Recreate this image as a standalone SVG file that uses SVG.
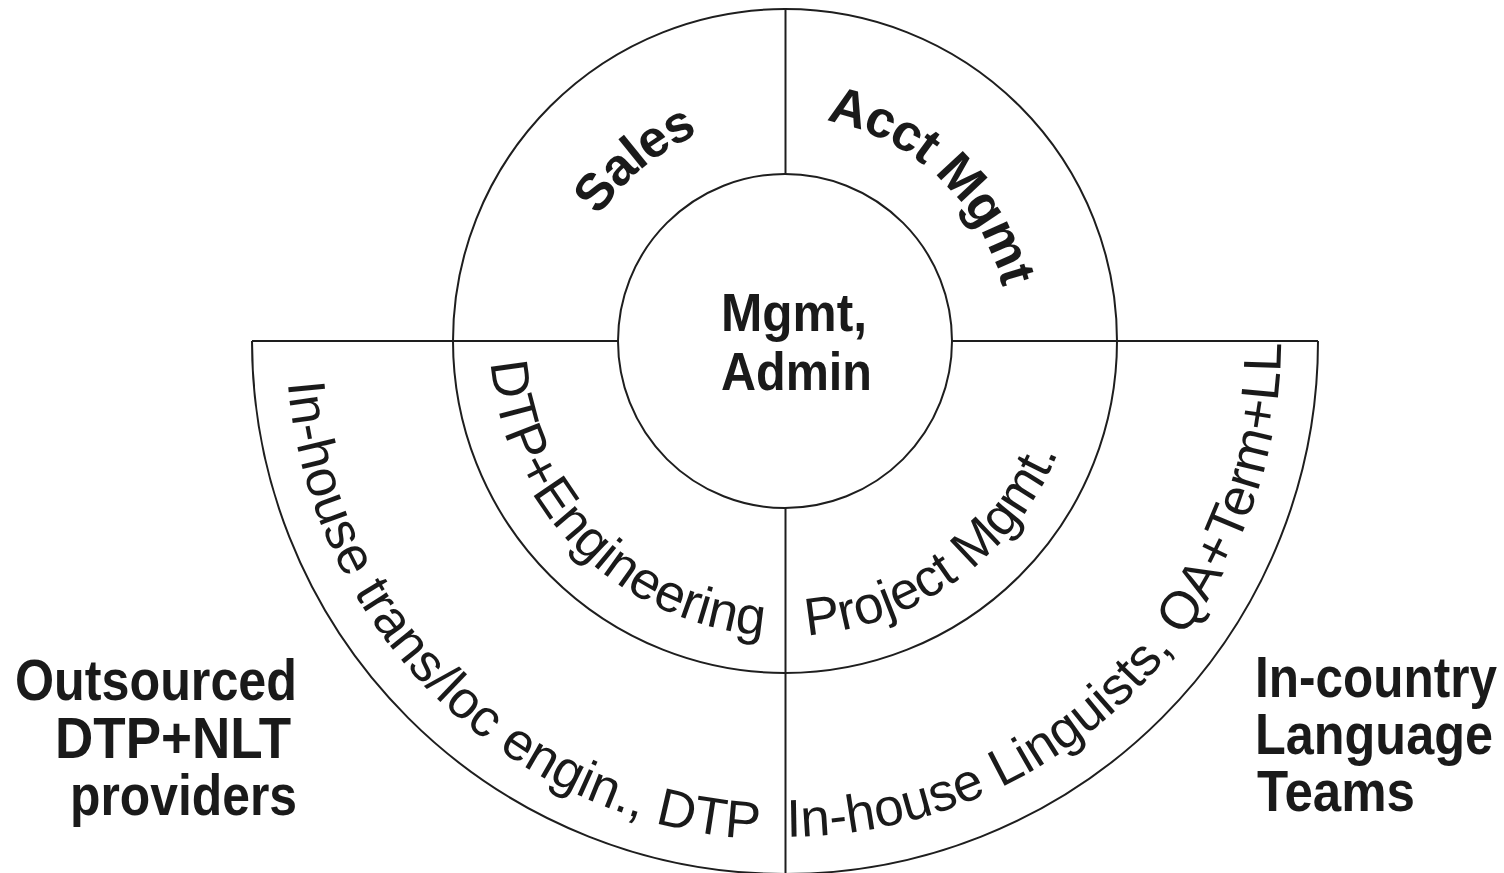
<svg xmlns="http://www.w3.org/2000/svg" xmlns:xlink="http://www.w3.org/1999/xlink" width="1504" height="873" viewBox="0 0 1504 873">
  <style>
    .ring { fill: none; stroke: #1e1e1e; stroke-width: 2; }
    .rule { stroke: #1e1e1e; stroke-width: 2; fill: none; }
    .lbl { font-family: "Liberation Sans", Arial, sans-serif; fill: #1a1a1a; }
    .bold { font-weight: bold; }
    .arc-lbl { font-family: "Liberation Sans", Arial, sans-serif; fill: #1a1a1a; font-size: 53px; }
    .arc-bold { font-family: "Liberation Sans", Arial, sans-serif; fill: #1a1a1a; font-size: 52px; font-weight: bold; letter-spacing: -1.2px; }
  </style>
  <defs>
    <!-- clockwise arc over the top (glyph tops face outward) -->
    <path id="topArc" d="M 561 341 A 224 224 0 0 1 1009 341"/>
    <!-- counter-clockwise arcs under the bottom (glyph tops face the centre) -->
    <path id="midLowArc" d="M 490 341 A 295 295 0 0 0 1080 341"/>
    <path id="outerLowArcL" d="M 286 341 A 499 499 0 0 0 1284 341"/>
    <path id="outerLowArcR" d="M 289 341 A 496 496 0 0 0 1281 341"/>
  </defs>
  <rect width="1504" height="873" fill="#ffffff"/>

  <!-- ring outlines -->
  <g id="rings">
    <path class="ring" d="M 252 341 A 533 533 0 0 0 1318 341"/>
    <circle class="ring" cx="785" cy="341" r="332"/>
    <circle class="ring" cx="785" cy="341" r="167"/>
  </g>

  <!-- dividing rules between segments -->
  <g id="connectors">
    <line class="rule" x1="785.5" y1="9" x2="785.5" y2="174"/>
    <line class="rule" x1="785.5" y1="508" x2="785.5" y2="873"/>
    <line class="rule" x1="252" y1="341" x2="618" y2="341"/>
    <line class="rule" x1="952" y1="341" x2="1318" y2="341"/>
  </g>

  <g id="core">
    <text class="lbl bold" font-size="53" x="721" y="331" textLength="146" lengthAdjust="spacingAndGlyphs">Mgmt,</text>
    <text class="lbl bold" font-size="53" x="721" y="390" textLength="151" lengthAdjust="spacingAndGlyphs">Admin</text>
  </g>

  <g id="sales">
    <text class="arc-bold"><textPath xlink:href="#topArc" href="#topArc" startOffset="28%" text-anchor="middle">Sales</textPath></text>
  </g>

  <g id="acct-mgmt">
    <text class="arc-bold"><textPath xlink:href="#topArc" href="#topArc" startOffset="74%" text-anchor="middle">Acct Mgmt</textPath></text>
  </g>

  <g id="dtp-engineering">
    <text class="arc-lbl"><textPath xlink:href="#midLowArc" href="#midLowArc" startOffset="25%" text-anchor="middle">DTP+Engineering</textPath></text>
  </g>

  <g id="project-mgmt">
    <text class="arc-lbl"><textPath xlink:href="#midLowArc" href="#midLowArc" startOffset="70%" text-anchor="middle">Project Mgmt.</textPath></text>
  </g>

  <g id="inhouse-trans">
    <text class="arc-lbl" font-size="54"><textPath xlink:href="#outerLowArcL" href="#outerLowArcL" startOffset="25.5%" text-anchor="middle">In-house trans/loc engin., DTP</textPath></text>
  </g>

  <g id="inhouse-linguists">
    <text class="arc-lbl" font-size="51.5"><textPath xlink:href="#outerLowArcR" href="#outerLowArcR" startOffset="75%" text-anchor="middle">In-house Linguists, QA+Term+LL</textPath></text>
  </g>

  <g id="outsourced">
    <text class="lbl bold" font-size="57" x="15" y="700" textLength="282" lengthAdjust="spacingAndGlyphs">Outsourced</text>
    <text class="lbl bold" font-size="57" x="55" y="758" textLength="236" lengthAdjust="spacingAndGlyphs">DTP+NLT</text>
    <text class="lbl bold" font-size="57" x="70" y="815" textLength="227" lengthAdjust="spacingAndGlyphs">providers</text>
  </g>

  <g id="in-country">
    <text class="lbl bold" font-size="57" x="1255" y="697" textLength="242" lengthAdjust="spacingAndGlyphs">In-country</text>
    <text class="lbl bold" font-size="57" x="1255" y="754" textLength="238" lengthAdjust="spacingAndGlyphs">Language</text>
    <text class="lbl bold" font-size="57" x="1257" y="811" textLength="158" lengthAdjust="spacingAndGlyphs">Teams</text>
  </g>
</svg>
